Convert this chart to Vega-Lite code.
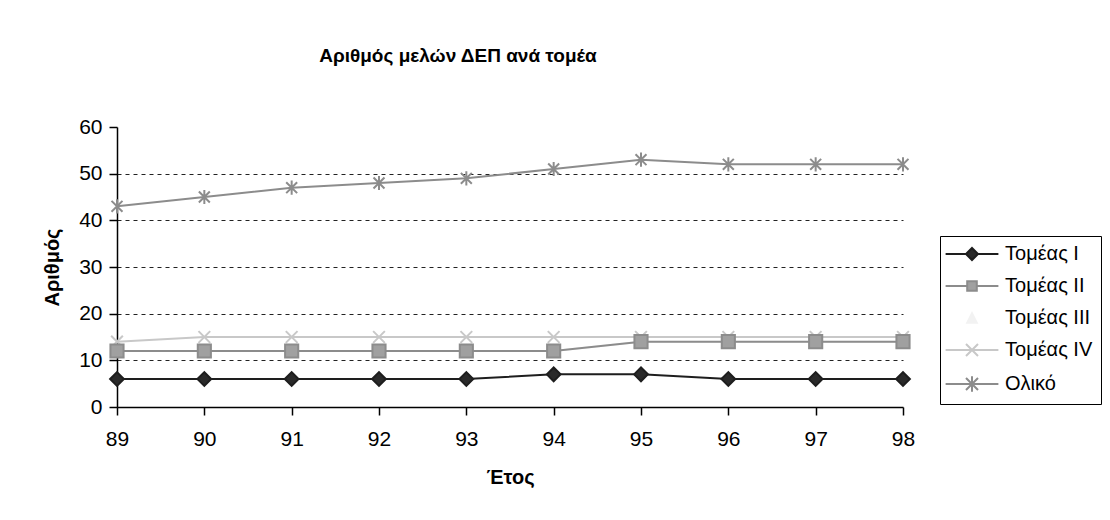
{
  "$schema": "https://vega.github.io/schema/vega-lite/v6.json",
  "width": 786,
  "height": 280,
  "autosize": "none",
  "padding": {"left": 117, "top": 127, "right": 207, "bottom": 113},
  "background": "white",
  "title": {
    "text": "Αριθμός μελών ΔΕΠ ανά τομέα",
    "font": "Liberation Sans",
    "fontSize": 19,
    "fontWeight": "bold",
    "color": "black",
    "anchor": "middle",
    "dx": -52,
    "offset": 50
  },
  "data": {
    "values": [
      {"year": "89", "series": "Τομέας III", "value": 12},
      {"year": "90", "series": "Τομέας III", "value": 12},
      {"year": "91", "series": "Τομέας III", "value": 12},
      {"year": "92", "series": "Τομέας III", "value": 12},
      {"year": "93", "series": "Τομέας III", "value": 12},
      {"year": "94", "series": "Τομέας III", "value": 12},
      {"year": "95", "series": "Τομέας III", "value": 14},
      {"year": "96", "series": "Τομέας III", "value": 14},
      {"year": "97", "series": "Τομέας III", "value": 14},
      {"year": "98", "series": "Τομέας III", "value": 14},
      {"year": "89", "series": "Τομέας IV", "value": 14},
      {"year": "90", "series": "Τομέας IV", "value": 15},
      {"year": "91", "series": "Τομέας IV", "value": 15},
      {"year": "92", "series": "Τομέας IV", "value": 15},
      {"year": "93", "series": "Τομέας IV", "value": 15},
      {"year": "94", "series": "Τομέας IV", "value": 15},
      {"year": "95", "series": "Τομέας IV", "value": 15},
      {"year": "96", "series": "Τομέας IV", "value": 15},
      {"year": "97", "series": "Τομέας IV", "value": 15},
      {"year": "98", "series": "Τομέας IV", "value": 15},
      {"year": "89", "series": "Τομέας II", "value": 12},
      {"year": "90", "series": "Τομέας II", "value": 12},
      {"year": "91", "series": "Τομέας II", "value": 12},
      {"year": "92", "series": "Τομέας II", "value": 12},
      {"year": "93", "series": "Τομέας II", "value": 12},
      {"year": "94", "series": "Τομέας II", "value": 12},
      {"year": "95", "series": "Τομέας II", "value": 14},
      {"year": "96", "series": "Τομέας II", "value": 14},
      {"year": "97", "series": "Τομέας II", "value": 14},
      {"year": "98", "series": "Τομέας II", "value": 14},
      {"year": "89", "series": "Τομέας I", "value": 6},
      {"year": "90", "series": "Τομέας I", "value": 6},
      {"year": "91", "series": "Τομέας I", "value": 6},
      {"year": "92", "series": "Τομέας I", "value": 6},
      {"year": "93", "series": "Τομέας I", "value": 6},
      {"year": "94", "series": "Τομέας I", "value": 7},
      {"year": "95", "series": "Τομέας I", "value": 7},
      {"year": "96", "series": "Τομέας I", "value": 6},
      {"year": "97", "series": "Τομέας I", "value": 6},
      {"year": "98", "series": "Τομέας I", "value": 6},
      {"year": "89", "series": "Ολικό", "value": 43},
      {"year": "90", "series": "Ολικό", "value": 45},
      {"year": "91", "series": "Ολικό", "value": 47},
      {"year": "92", "series": "Ολικό", "value": 48},
      {"year": "93", "series": "Ολικό", "value": 49},
      {"year": "94", "series": "Ολικό", "value": 51},
      {"year": "95", "series": "Ολικό", "value": 53},
      {"year": "96", "series": "Ολικό", "value": 52},
      {"year": "97", "series": "Ολικό", "value": 52},
      {"year": "98", "series": "Ολικό", "value": 52}
    ]
  },
  "encoding": {
    "x": {
      "field": "year",
      "type": "ordinal",
      "scale": {"type": "point", "padding": 0},
      "axis": {
        "title": "Έτος",
        "labelAngle": 0,
        "titlePadding": 18,
        "labelPadding": 13,
        "tickSize": 8
      }
    },
    "y": {
      "field": "value",
      "type": "quantitative",
      "scale": {"domain": [0, 60], "nice": false},
      "axis": {
        "title": "Αριθμός",
        "values": [0, 10, 20, 30, 40, 50, 60],
        "titlePadding": 16,
        "labelPadding": 7,
        "tickSize": 8,
        "grid": true,
        "gridDash": [4, 4],
        "gridColor": "#222",
        "gridWidth": 1,
        "gridOpacity": {"condition": {"test": "datum.value == 60 || datum.value == 0", "value": 0}, "value": 1}
      }
    }
  },
  "layer": [
    {
      "mark": {"type": "line", "strokeWidth": 2},
      "encoding": {
        "color": {
          "field": "series",
          "type": "nominal",
          "scale": {
            "domain": ["Τομέας I", "Τομέας II", "Τομέας III", "Τομέας IV", "Ολικό"],
            "range": ["#1e1e1e", "#8c8c8c", "#f2f2f2", "#c8c8c8", "#8c8c8c"]
          },
          "legend": null
        },
        "strokeWidth": {
          "field": "series",
          "type": "nominal",
          "scale": {
            "domain": ["Τομέας I", "Τομέας II", "Τομέας III", "Τομέας IV", "Ολικό"],
            "range": [2.5, 2, 2, 2, 2]
          },
          "legend": null
        }
      }
    },
    {
      "mark": {"type": "point", "filled": false, "strokeWidth": 2, "opacity": 1},
      "encoding": {
        "color": {"field": "series", "type": "nominal", "legend": null},
        "fill": {
          "field": "series",
          "type": "nominal",
          "scale": {
            "domain": ["Τομέας I", "Τομέας II", "Τομέας III", "Τομέας IV", "Ολικό"],
            "range": ["#2a2a2a", "#a0a0a0", "#f2f2f2", "transparent", "transparent"]
          },
          "legend": null
        },
        "shape": {
          "field": "series",
          "type": "nominal",
          "scale": {
            "domain": ["Τομέας I", "Τομέας II", "Τομέας III", "Τομέας IV", "Ολικό"],
            "range": [
              "diamond",
              "square",
              "triangle-up",
              "M-1,-1L1,1M1,-1L-1,1",
              "M-1,-1L1,1M1,-1L-1,1M0,-1.3L0,1.3"
            ]
          },
          "legend": null
        },
        "size": {
          "field": "series",
          "type": "nominal",
          "scale": {
            "domain": ["Τομέας I", "Τομέας II", "Τομέας III", "Τομέας IV", "Ολικό"],
            "range": [190, 120, 120, 240, 240]
          },
          "legend": null
        }
      }
    },
    {
      "transform": [{"filter": "datum.value < 0"}],
      "mark": {"type": "point", "filled": false, "strokeWidth": 2},
      "encoding": {
        "color": {
          "field": "series",
          "type": "nominal",
          "legend": {
            "title": null,
            "orient": "none",
            "legendX": 823,
            "legendY": 109,
            "padding": 8,
            "strokeColor": "black",
            "fillColor": "white",
            "symbolSize": 144,
            "symbolStrokeWidth": 2,
            "symbolOpacity": 1,
            "labelFontSize": 20,
            "labelFont": "Liberation Sans",
            "labelColor": "black",
            "rowPadding": 12,
            "symbolOffset": 14,
            "labelOffset": 23
          }
        },
        "fill": {
          "field": "series",
          "type": "nominal",
          "legend": {
            "title": null,
            "orient": "none",
            "legendX": 823,
            "legendY": 109,
            "padding": 8,
            "strokeColor": "black",
            "fillColor": "white",
            "symbolSize": 144,
            "symbolStrokeWidth": 2,
            "symbolOpacity": 1,
            "labelFontSize": 20,
            "labelFont": "Liberation Sans",
            "labelColor": "black",
            "rowPadding": 12,
            "symbolOffset": 14,
            "labelOffset": 23
          }
        },
        "shape": {
          "field": "series",
          "type": "nominal",
          "scale": {
            "domain": ["Τομέας I", "Τομέας II", "Τομέας III", "Τομέας IV", "Ολικό"],
            "range": [
              "M-4.4,0L-1,0M1,0L4.4,0M0,-1L1,0L0,1L-1,0Z",
              "M-4.4,0L-0.8,0M0.8,0L4.4,0M-0.8,-0.8L0.8,-0.8L0.8,0.8L-0.8,0.8Z",
              "M0,-0.8L0.8,0.8L-0.8,0.8Z",
              "M-4.4,0L4.4,0M-1,-1L1,1M1,-1L-1,1",
              "M-4.4,0L4.4,0M-1,-1L1,1M1,-1L-1,1M0,-1.3L0,1.3"
            ]
          },
          "legend": {
            "title": null,
            "orient": "none",
            "legendX": 823,
            "legendY": 109,
            "padding": 8,
            "strokeColor": "black",
            "fillColor": "white",
            "symbolSize": 144,
            "symbolStrokeWidth": 2,
            "symbolOpacity": 1,
            "labelFontSize": 20,
            "labelFont": "Liberation Sans",
            "labelColor": "black",
            "rowPadding": 12,
            "symbolOffset": 14,
            "labelOffset": 23
          }
        }
      }
    }
  ],
  "resolve": {
    "scale": {"shape": "independent"},
    "legend": {"shape": "independent", "color": "independent", "fill": "independent"}
  },
  "config": {
    "view": {"stroke": null},
    "font": "Liberation Sans",
    "axis": {
      "labelFont": "Liberation Sans",
      "labelFontSize": 21,
      "labelColor": "black",
      "titleFont": "Liberation Sans",
      "titleFontSize": 20,
      "titleFontWeight": "bold",
      "titleColor": "black",
      "domainColor": "black",
      "domainWidth": 1.5,
      "tickColor": "black",
      "tickWidth": 1.5
    },
    "axisX": {"grid": false}
  }
}
